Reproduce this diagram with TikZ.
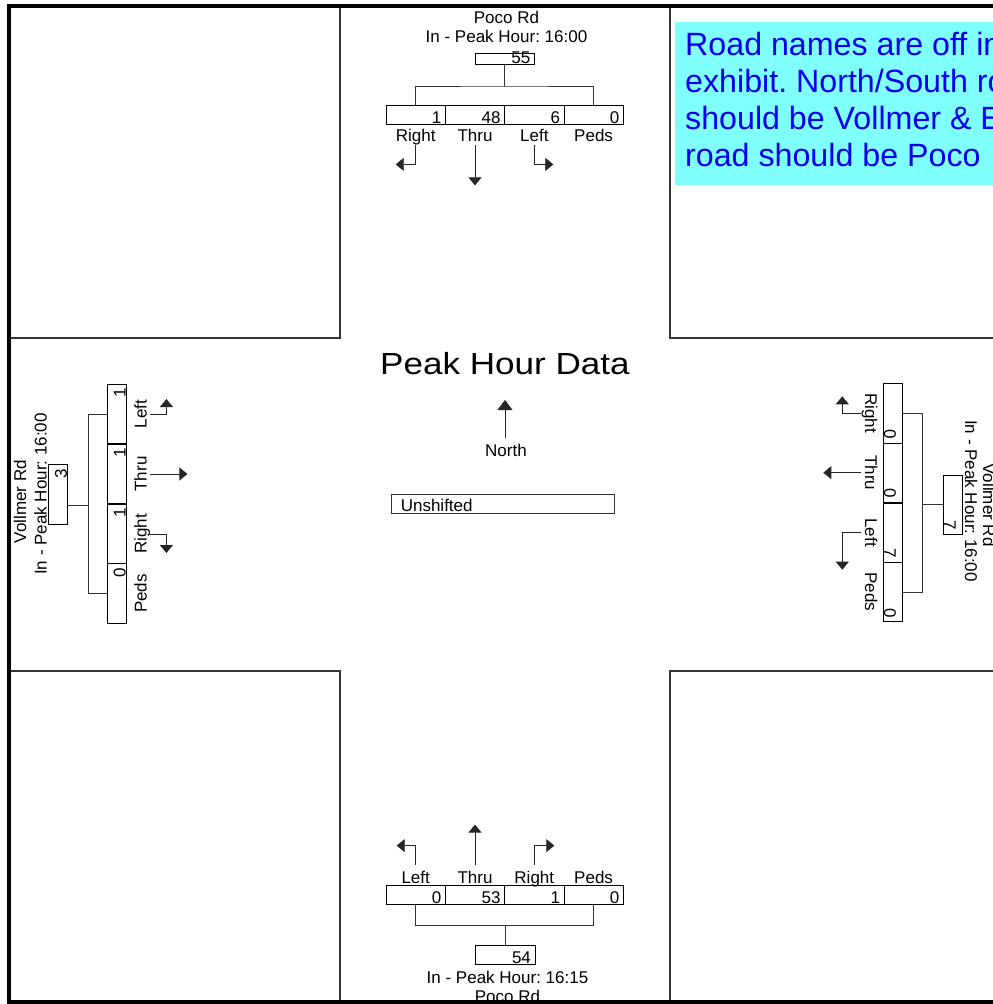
\documentclass[tikz,border=0pt]{standalone}
\usepackage{fontspec}
\setmainfont{Liberation Sans}
\usetikzlibrary{positioning,arrows.meta,calc}
\frenchspacing
\definecolor{notefill}{HTML}{80FFFF}
\definecolor{noteink}{HTML}{0000F0}
\newcommand{\lblfont}{\fontsize{17}{19}\selectfont}
\newcommand{\ttlfont}{\fontsize{30.5}{36}\selectfont}
\newcommand{\notefont}{\fontsize{32.2}{37}\selectfont}

\begin{document}
\begin{tikzpicture}[x=1pt, y=-1pt,
    quad/.style={draw=black!80, line width=1.4pt},
    outer/.style={draw=black, line width=4pt},
    volbox/.style={draw=black, line width=0.8pt, font=\lblfont, inner xsep=4pt, inner ysep=1pt,
      text width=51.3pt, align=right, text height=17pt, text depth=0pt},
    lbl/.style={font=\lblfont, inner sep=0pt, text height=12.5pt, text depth=3.5pt},
    txt/.style={font=\lblfont, inner sep=0pt},
    wire/.style={draw=black!80, line width=0.8pt},
    turn/.style={draw=black!85, line width=0.8pt, -{Triangle[length=8pt,width=13pt]}},
    notetext/.style={font=\notefont, text=noteink, inner sep=0pt}]
  \useasboundingbox (0,0) rectangle (993,1004);
  \clip (0,0) rectangle (993,1004);
  % quadrants
  \draw[quad] (9,6) rectangle (340,338);   \draw[quad] (670,6) rectangle (1020,338);
  \draw[quad] (9,671) rectangle (340,1002); \draw[quad] (670,671) rectangle (1020,1002);
  % note
  \fill[notefill] (675,22) rectangle (1020,185);
  \foreach \t [count=\i] in {Road names are off in, exhibit. North/South ro, should be Vollmer \& E, road should be Poco}
    \node[notetext, anchor=base west] (n\i) at (685,{55+37*(\i-1)}) {\t};
  % centre
  \node[font=\ttlfont, xscale=1.15, inner sep=0pt, anchor=base] (ttl) at (505,374.3) {Peak Hour Data};
  \node[lbl, anchor=base] (nlbl) at (506,456.7) {North};
  \draw[-{Triangle[length=10pt,width=15pt]}, draw=black!85, line width=0.8pt] (nlbl.north) ++(-1,-6) -- ++(0,-38);
  \node[draw=black!80, line width=0.8pt, font=\lblfont, inner xsep=9pt, inner ysep=1.6pt, text width=205pt,
    align=left, text height=16pt, text depth=0pt] (shift) at (503.3,503.7) {Unshifted};
  % top approach
  \node[txt, anchor=base] (tname) at (506.5,23) {Poco Rd};
  \node[txt, anchor=base] (tin) at (506.5,42.5) {In - Peak Hour: 16:00};
  \node[volbox, text height=10pt, inner ysep=0.5pt] (tT) at (504.6,58.8) {55};
  \foreach \x/\v/\l [count=\i] in {415.7/1/Right, 475/48/Thru, 534.3/6/Left, 593.6/0/Peds}{%
    \node[volbox] (tc\i) at (\x,114.5) {\v};
    \node[lbl, anchor=base] (tl\i) at (\x,141.7) {\l};}
  \coordinate (tbar) at (504.6,86);
  \draw[wire] (tT) -- (tbar);
  \draw[wire] (tc1.north) |- (tbar) -| (tc4.north);
  \draw[turn] (tl1.south) |- ++(-20,19);
  \draw[turn] (tl2.south) -- ++(0,40);
  \draw[turn] (tl3.south) |- ++(19,19);
  % bottom approach
  \foreach \x/\v/\l [count=\i] in {415.7/0/Left, 475/53/Thru, 534.3/1/Right, 593.6/0/Peds}{%
    \node[volbox] (bc\i) at (\x,894.7) {\v};
    \node[lbl, anchor=base] (bl\i) at (\x,883.3) {\l};}
  \node[volbox] (bT) at (505.3,955.3) {54};
  \coordinate (bbar) at (505.3,925);
  \draw[wire] (bT) -- (bbar);
  \draw[wire] (bc1.south) |- (bbar) -| (bc4.south);
  \draw[turn] ([yshift=6pt]bl1.north) |- ++(-19,-19);
  \draw[turn] ([yshift=6pt]bl2.north) -- ++(0,-40);
  \draw[turn] ([yshift=6pt]bl3.north) |- ++(20,-19);
  \node[txt, anchor=base] (bin) at (507.5,983) {In - Peak Hour: 16:15};
  \node[txt, anchor=base] (bname) at (507.5,1002) {Poco Rd};
  % left approach
  \node[txt, rotate=90, anchor=base] (lname) at (26,501.5) {Vollmer Rd};
  \node[txt, rotate=90, anchor=base] (lin) at (46.7,494) {In - Peak Hour: 16:00};
  \node[volbox, rotate=90] (lT) at (58.3,494.5) {3};
  \foreach \y/\v/\l [count=\i] in {414/1/Left, 474/1/Thru, 534/1/Right, 593.5/0/Peds}{%
    \node[volbox, rotate=90] (lc\i) at (117,\y) {\v};
    \node[lbl, rotate=90, anchor=base] (ll\i) at (146.7,\y) {\l};}
  \coordinate (lbar) at (88.3,505);
  \draw[wire] (lT.south |- lbar) -- (lbar);
  \draw[wire] (lc1.north) -| (lbar) |- (lc4.north);
  \draw[turn] (ll1.south) -| ++(16,-15);
  \draw[turn] (ll2.south) -- ++(37,0);
  \draw[turn] (ll3.south) -| ++(16,19);
  % right approach
  \node[txt, rotate=-90, anchor=base] (rin) at (965,501) {In - Peak Hour: 16:00};
  \node[txt, rotate=-90, anchor=base] (rname) at (983,505) {Vollmer Rd};
  \node[volbox, rotate=-90] (rT) at (952.5,504.7) {7};
  \foreach \y/\v/\l [count=\i] in {413.3/0/Right, 472.7/0/Thru, 532.7/7/Left, 592/0/Peds}{%
    \node[volbox, rotate=-90] (rc\i) at (892.5,\y) {\v};
    \node[lbl, rotate=-90, anchor=base] (rl\i) at (865,\y) {\l};}
  \coordinate (rbar) at (922.3,504.7);
  \draw[wire] (rT.south) -- (rbar);
  \draw[wire] (rc1.north) -| (rbar) |- (rc4.north);
  \draw[turn] (rl1.south) -| ++(-19,-17);
  \draw[turn] (rl2.south) -- ++(-38,0);
  \draw[turn] (rl3.south) -| ++(-19,37);
  % frame
  \draw[outer] (1020,6) -- (9,6) -- (9,1002) -- (1020,1002);
\end{tikzpicture}
\end{document}
